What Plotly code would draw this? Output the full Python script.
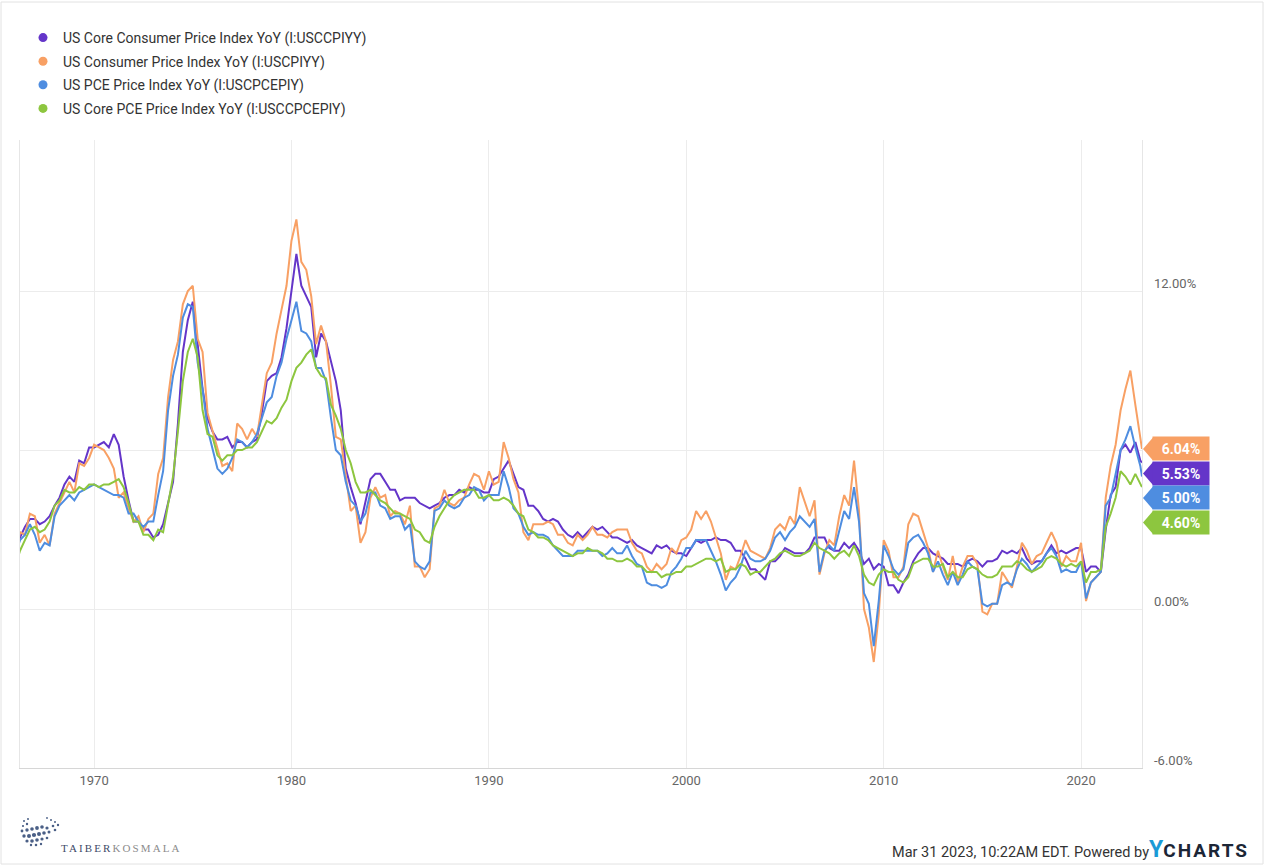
import pandas as pd
import plotly.graph_objects as go

# ---------------- data (YoY %, quarterly readings Jan/Apr/Jul/Oct, then Jan & Feb 2023) -------------
dates = list(pd.date_range("1966-01-01", "2022-10-01", freq="QS").strftime("%Y-%m-%d")) + ["2023-01-01", "2023-02-01"]

core_cpi = [
    2.0, 2.7, 3.1, 3.4,  3.4, 3.2, 3.3, 3.5,  3.9, 4.2, 4.7, 5.0,  4.8, 5.6, 5.5, 6.1,   # 1966-69
    6.1, 6.2, 6.3, 6.1,  6.6, 6.2, 5.0, 4.1,  3.3, 3.3, 3.0, 3.0,  2.7, 2.8, 3.2, 4.0,   # 1970-73
    4.8, 7.0, 9.7, 10.9, 11.6, 10.0, 8.3, 7.2, 6.7, 6.4, 6.4, 6.5, 6.1, 6.3, 6.3, 6.1,  # 1974-77
    6.3, 6.4, 7.4, 8.6,  8.8, 8.9, 9.5, 10.6, 12.0, 13.4, 12.2, 11.8, 11.4, 9.5, 10.4, 10.1,  # 1978-81
    9.3, 8.6, 7.5, 5.3,  4.6, 4.0, 3.2, 4.0,  4.9, 5.1, 5.1, 4.8,  4.5, 4.5, 4.1, 4.2,   # 1982-85
    4.2, 4.2, 4.0, 3.9,  3.8, 3.9, 4.0, 4.2,  4.3, 4.3, 4.5, 4.4,  4.6, 4.5, 4.5, 4.4,   # 1986-89
    4.4, 4.9, 5.0, 5.3,  5.6, 5.1, 4.6, 4.5,  3.9, 3.9, 3.7, 3.4,  3.3, 3.4, 3.3, 3.0,   # 1990-93
    2.8, 2.7, 2.9, 2.7,  2.9, 3.1, 3.0, 3.1,  2.9, 2.7, 2.7, 2.6,  2.5, 2.6, 2.4, 2.3,   # 1994-97
    2.2, 2.1, 2.4, 2.3,  2.4, 2.2, 2.1, 2.1,  2.0, 2.3, 2.6, 2.5,  2.6, 2.6, 2.7, 2.6,   # 1998-01
    2.6, 2.5, 2.2, 2.2,  1.9, 1.5, 1.5, 1.3,  1.1, 1.8, 1.8, 2.0,  2.3, 2.2, 2.1, 2.1,   # 2002-05
    2.1, 2.3, 2.7, 2.7,  2.7, 2.3, 2.2, 2.2,  2.5, 2.3, 2.5, 2.2,  1.7, 1.9, 1.5, 1.7,   # 2006-09
    1.6, 0.9, 0.9, 0.6,  1.0, 1.3, 1.8, 2.1,  2.3, 2.3, 2.1, 2.0,  1.9, 1.7, 1.7, 1.7,   # 2010-13
    1.6, 1.8, 1.9, 1.8,  1.6, 1.8, 1.8, 1.9,  2.2, 2.1, 2.2, 2.1,  2.3, 1.9, 1.7, 1.8,   # 2014-17
    1.8, 2.1, 2.4, 2.1,  2.2, 2.1, 2.2, 2.3,  2.3, 1.4, 1.6, 1.6,  1.4, 3.0, 4.3, 4.6,   # 2018-21
    6.0, 6.2, 5.9, 6.3,  5.6, 5.53,                                                      # 2022-23
]

cpi = [
    1.9, 2.9, 2.8, 3.6,  3.5, 2.5, 2.8, 2.4,  3.6, 4.0, 4.4, 4.8,  4.4, 5.5, 5.4, 5.7,
    6.2, 6.1, 6.0, 5.7,  5.3, 4.2, 4.4, 3.8,  3.3, 3.5, 2.9, 3.4,  3.6, 5.1, 5.7, 8.0,
    9.4, 10.1, 11.5, 12.0, 12.2, 10.2, 9.7, 7.4, 6.7, 6.1, 5.4, 5.5, 5.2, 7.0, 6.8, 6.4,
    6.8, 6.5, 7.7, 8.9,  9.3, 10.4, 11.3, 12.2, 13.9, 14.7, 13.1, 12.8, 11.8, 10.0, 10.7, 10.1,
    8.4, 6.5, 6.4, 5.1,  3.7, 3.9, 2.5, 2.9,  4.2, 4.6, 4.2, 4.3,  3.5, 3.7, 3.6, 3.2,
    3.9, 1.6, 1.6, 1.2,  1.5, 3.8, 3.9, 4.5,  4.0, 3.9, 4.1, 4.2,  4.7, 5.1, 5.0, 4.5,
    5.2, 4.7, 4.8, 6.3,  5.7, 4.9, 4.4, 2.9,  2.6, 3.2, 3.2, 3.2,  3.3, 3.2, 2.8, 2.8,
    2.5, 2.4, 2.8, 2.6,  2.8, 3.1, 2.8, 2.8,  2.7, 2.9, 3.0, 3.0,  3.0, 2.5, 2.2, 2.1,
    1.6, 1.4, 1.7, 1.5,  1.7, 2.3, 2.1, 2.6,  2.7, 3.0, 3.7, 3.4,  3.7, 3.3, 2.7, 2.1,
    1.1, 1.6, 1.5, 2.0,  2.6, 2.2, 2.1, 2.0,  1.9, 2.3, 3.0, 3.2,  3.0, 3.5, 3.2, 4.6,
    4.0, 3.5, 4.1, 1.3,  2.1, 2.6, 2.4, 3.5,  4.3, 3.9, 5.6, 3.7,  0.0, -0.7, -2.0, -0.2,
    2.6, 2.2, 1.2, 1.2,  1.6, 3.2, 3.6, 3.5,  2.9, 2.3, 1.4, 2.2,  1.6, 1.1, 2.0, 1.0,
    1.6, 2.0, 2.0, 1.7,  -0.1, -0.2, 0.2, 0.2, 1.4, 1.1, 0.8, 1.6, 2.5, 2.2, 1.7, 2.0,
    2.1, 2.5, 2.9, 2.5,  1.6, 2.0, 1.8, 1.8,  2.5, 0.3, 1.0, 1.2,  1.4, 4.2, 5.4, 6.2,
    7.5, 8.3, 9.0, 7.7,  6.4, 6.04,
]

pce = [
    2.0, 2.6, 2.8, 3.2,  2.8, 2.2, 2.5, 2.4,  3.5, 3.9, 4.1, 4.3,  4.1, 4.4, 4.5, 4.6,
    4.7, 4.6, 4.5, 4.4,  4.3, 4.3, 4.2, 3.6,  3.6, 3.3, 3.1, 3.3,  3.3, 4.3, 5.2, 7.5,
    8.8, 9.6, 11.0, 11.5, 11.4, 9.3, 8.3, 6.8, 6.1, 5.3, 5.1, 5.3, 5.7, 6.4, 6.3, 6.1,
    6.3, 6.6, 7.2, 7.8,  8.0, 8.8, 9.3, 10.2, 10.9, 11.6, 10.5, 10.4, 10.1, 9.1, 9.1, 8.6,
    7.2, 6.0, 5.8, 4.8,  4.1, 3.9, 3.3, 3.6,  4.4, 4.4, 3.9, 3.8,  3.4, 3.5, 3.5, 3.0,
    3.2, 1.8, 1.6, 1.5,  1.8, 3.7, 3.8, 4.1,  3.9, 3.8, 3.9, 4.2,  4.3, 4.6, 4.5, 4.1,
    4.3, 4.3, 4.3, 5.2,  4.6, 3.8, 3.6, 3.1,  2.8, 2.9, 2.8, 2.8,  2.7, 2.4, 2.2, 2.0,
    2.0, 2.0, 2.2, 2.2,  2.2, 2.2, 2.2, 2.0,  2.1, 2.3, 2.1, 2.1,  2.4, 2.0, 1.7, 1.6,
    1.0, 0.9, 0.9, 0.8,  0.9, 1.4, 1.6, 1.9,  2.3, 2.3, 2.6, 2.6,  2.6, 2.2, 1.8, 1.3,
    0.7, 1.0, 1.2, 1.6,  2.2, 1.9, 1.8, 1.8,  1.9, 2.2, 2.7, 2.9,  2.6, 2.9, 3.1, 3.5,
    3.3, 3.1, 3.4, 1.4,  2.2, 2.4, 2.2, 3.0,  3.7, 3.4, 4.6, 3.3,  0.6, 0.2, -1.4, 0.3,
    2.4, 2.0, 1.5, 1.3,  1.5, 2.5, 2.7, 2.8,  2.5, 2.1, 1.4, 1.8,  1.3, 0.9, 1.4, 0.9,
    1.3, 1.8, 1.6, 1.5,  0.2, 0.1, 0.2, 0.2,  0.9, 1.0, 0.9, 1.5,  1.9, 1.7, 1.4, 1.6,
    1.8, 2.1, 2.3, 2.0,  1.4, 1.5, 1.4, 1.4,  1.8, 0.4, 1.0, 1.2,  1.4, 3.9, 4.2, 5.1,
    6.0, 6.4, 6.9, 6.1,  5.4, 5.00,
]

core_pce = [
    1.6, 2.2, 2.6, 3.0,  3.1, 2.9, 3.0, 3.3,  3.9, 4.1, 4.5, 4.4,  4.4, 4.6, 4.5, 4.7,
    4.7, 4.6, 4.7, 4.7,  4.8, 4.9, 4.6, 4.0,  3.3, 3.3, 2.8, 2.8,  2.6, 3.0, 2.9, 4.0,
    5.0, 6.7, 8.6, 9.7,  10.2, 9.5, 7.5, 6.6, 6.5, 5.8, 5.6, 5.8,  5.8, 6.0, 6.0, 6.1,
    6.1, 6.3, 6.7, 7.1,  7.0, 7.2, 7.6, 7.9,  8.6, 9.1, 9.3, 9.6,  9.8, 9.1, 8.8, 8.7,
    7.7, 7.3, 6.8, 6.0,  5.5, 4.8, 4.4, 4.4,  4.5, 4.3, 4.1, 4.0,  3.8, 3.6, 3.6, 3.5,
    3.4, 3.0, 2.9, 2.6,  2.5, 3.1, 3.5, 3.8,  4.1, 4.3, 4.4, 4.5,  4.5, 4.5, 4.2, 4.2,
    4.3, 4.1, 4.1, 4.2,  4.1, 3.9, 3.6, 3.5,  3.0, 2.9, 2.7, 2.7,  2.6, 2.4, 2.3, 2.2,
    2.1, 2.0, 2.1, 2.1,  2.3, 2.2, 2.2, 2.1,  1.9, 1.9, 1.8, 1.8,  1.9, 1.8, 1.6, 1.6,
    1.4, 1.4, 1.4, 1.2,  1.3, 1.3, 1.4, 1.4,  1.6, 1.6, 1.7, 1.8,  1.9, 1.9, 1.8, 1.9,
    1.4, 1.5, 1.5, 1.7,  1.6, 1.3, 1.4, 1.4,  1.6, 1.8, 1.9, 2.1,  2.2, 2.1, 2.0, 2.0,
    2.1, 2.2, 2.5, 2.3,  2.2, 2.1, 1.9, 2.1,  2.2, 2.0, 2.4, 2.0,  1.3, 1.0, 0.9, 1.3,
    1.5, 1.4, 1.4, 1.1,  1.0, 1.2, 1.7, 1.8,  1.9, 1.9, 1.6, 1.6,  1.7, 1.2, 1.4, 1.2,
    1.2, 1.5, 1.6, 1.5,  1.3, 1.2, 1.2, 1.3,  1.6, 1.6, 1.6, 1.8,  1.7, 1.5, 1.4, 1.5,
    1.6, 1.9, 2.0, 1.9,  1.7, 1.6, 1.7, 1.6,  1.8, 1.0, 1.4, 1.4,  1.5, 3.1, 3.6, 4.2,
    5.2, 5.0, 4.7, 5.1,  4.7, 4.60,
]

series_names = [
    "US Core Consumer Price Index YoY (I:USCCPIYY)",
    "US Consumer Price Index YoY (I:USCPIYY)",
    "US PCE Price Index YoY (I:USCPCEPIY)",
    "US Core PCE Price Index YoY (I:USCCPCEPIY)",
]
series_values = [core_cpi, cpi, pce, core_pce]
series_colors = ["#6435c9", "#f8a064", "#4e8de0", "#8dc63f"]

y_ticks = [-6, 0, 6, 12]
x_range = ["1966-04-01", "2023-02-01"]
y_range = [-6, 17.7]

# ---------------- layout geometry ----------------
W, H = 1265, 865
ML, MR, MT, MB = 20, 123, 140, 97
PW, PH = W - ML - MR, H - MT - MB
FONT = "Roboto, 'Open Sans', sans-serif"


def px_x(px):
    return (px - ML) / PW


def px_y(py):
    return (H - MB - py) / PH


fig = go.Figure()

for name, vals, col in zip(series_names, series_values, series_colors):
    fig.add_trace(go.Scatter(x=dates, y=vals, mode="lines", name=name,
                             line=dict(color=col, width=2), showlegend=False,
                             hoverinfo="x+y"))

# legend entries shown as dots
for name, col in zip(series_names, series_colors):
    fig.add_trace(go.Scatter(x=[None], y=[None], mode="markers", name=name,
                             marker=dict(color=col, size=9), legendgroup=name))

annotations = []
shapes = []

# right-side y tick labels (slightly above their grid lines)
for v in y_ticks:
    annotations.append(dict(x=1, xref="paper", xanchor="left", xshift=10,
                            y=v, yref="y", yanchor="middle", yshift=8,
                            text=f"{v:.2f}%", showarrow=False,
                            font=dict(family=FONT, size=13, color="#666666")))

# last-value tags, stacked downward from the top one
order = [1, 0, 2, 3]  # CPI, Core CPI, PCE, Core PCE
anchor_val = series_values[1][-1]
step = 24.5
for k, idx in enumerate(order):
    col = series_colors[idx]
    last = series_values[idx][-1]
    c = -step * k
    shapes.append(dict(type="path", xref="paper", xsizemode="pixel", xanchor=1,
                       yref="y", ysizemode="pixel", yanchor=anchor_val,
                       path=f"M 1,{c} L 11,{c + 11.5} L 11,{c - 11.5} Z",
                       fillcolor=col, line=dict(width=0), layer="above"))
    annotations.append(dict(x=1, xref="paper", xanchor="left", xshift=10,
                            y=anchor_val, yref="y", yanchor="middle", yshift=c,
                            text=f"<b>{last:.2f}%</b>", showarrow=False,
                            bgcolor=col, width=56, height=23, borderpad=0,
                            font=dict(family=FONT, size=14, color="white")))

# footer
annotations.append(dict(x=px_x(1251), xref="paper", xanchor="right",
                        y=px_y(849), yref="paper", yanchor="middle",
                        text="Mar 31 2023, 10:22AM EDT. Powered by"
                             "<span style='color:#1a9ad6;font-size:23px;font-weight:bold'>Y</span>"
                             "<span style='font-size:19px;font-weight:bold;color:#1c2636;letter-spacing:2px'>CHARTS</span>",
                        showarrow=False,
                        font=dict(family=FONT, size=14.5, color="#333333")))
annotations.append(dict(x=px_x(59), xref="paper", xanchor="left",
                        y=px_y(848), yref="paper", yanchor="middle",
                        text="<span style='color:#3e4a68;letter-spacing:2.1px'>TAIBER</span>"
                             "<span style='color:#8c8c8c;letter-spacing:2.1px'>KOSMALA</span>",
                        showarrow=False,
                        font=dict(family="'Liberation Serif', 'DejaVu Serif', serif", size=11, color="#6b6b7a")))

# small dotted-globe logo mark
logo_dots = [
    (24, 821, 1.0), (28, 819, 1.0), (47, 818, 0.9), (51, 820, 1.0), (55, 822, 1.0),
    (23, 826, 1.1), (27, 824, 1.2), (53, 826, 1.3), (58, 825, 1.2),
    (22, 831, 1.4), (27, 830, 1.7), (32, 829, 1.8), (37, 828, 1.9), (42, 827, 1.8), (47, 828, 1.6), (55, 830, 1.3),
    (24, 836, 1.7), (29, 836, 2.0), (34, 835, 2.1), (39, 834, 2.0), (44, 833, 1.8), (49, 832, 1.5),
    (27, 841, 1.6), (32, 841, 1.8), (37, 840, 1.8), (42, 839, 1.6), (47, 838, 1.3),
    (31, 845, 1.2), (36, 845, 1.3), (41, 844, 1.2),
]
for (cx, cy, r) in logo_dots:
    shapes.append(dict(type="circle", xref="paper", yref="paper",
                       x0=px_x(cx - r), x1=px_x(cx + r), y0=px_y(cy + r), y1=px_y(cy - r),
                       fillcolor="#4a5f86", line=dict(width=0), layer="above"))

# outer frame
shapes.append(dict(type="rect", xref="paper", yref="paper",
                   x0=px_x(1), x1=px_x(W - 2), y0=px_y(H - 1), y1=px_y(2),
                   line=dict(color="#e2e2e2", width=1), fillcolor="rgba(0,0,0,0)", layer="below"))

fig.update_layout(
    width=W, height=H,
    margin=dict(l=ML, r=MR, t=MT, b=MB),
    paper_bgcolor="white", plot_bgcolor="white",
    font=dict(family=FONT, size=13, color="#555555"),
    showlegend=True,
    legend=dict(x=px_x(23), xanchor="left", y=px_y(22), yanchor="top",
                font=dict(family=FONT, size=14, color="#333333"),
                bgcolor="rgba(0,0,0,0)", tracegroupgap=2.4, itemclick=False),
    xaxis=dict(type="date", range=x_range, tickformat="%Y", dtick="M120", tick0="1970-01-01",
               showgrid=True, gridcolor="#ececec", gridwidth=1,
               showline=True, linecolor="#d6d6d6", linewidth=1, ticks="",
               tickfont=dict(family=FONT, size=13, color="#666666"), zeroline=False,
               fixedrange=True),
    yaxis=dict(range=y_range, tickvals=y_ticks, showticklabels=False, side="right",
               showgrid=True, gridcolor="#ececec", gridwidth=1,
               showline=True, mirror=True, linecolor="#e6e6e6", linewidth=1,
               zeroline=False, ticks="", fixedrange=True),
    annotations=annotations,
    shapes=shapes,
    hovermode="x unified",
)

fig.write_html("out.html", config={"displayModeBar": False},
               post_script="document.body.style.margin='0';document.body.style.overflow='hidden';")
